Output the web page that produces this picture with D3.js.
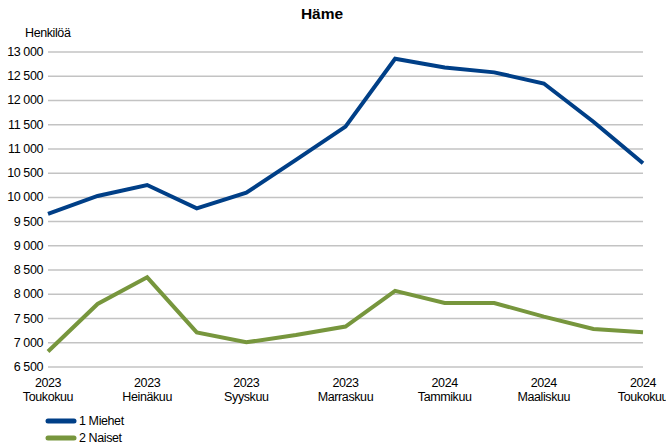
<!DOCTYPE html>
<html>
<head>
<meta charset="utf-8">
<script src="https://cdn.jsdelivr.net/npm/d3@7"></script>
<style>
  body { margin: 0; background: #fff; }
  svg text { font-family: "Liberation Sans", Arial, sans-serif; fill: #000; }
</style>
</head>
<body>
<div id="chart"></div>
<script>
// months May 2023 .. May 2024
const months = ["2023-05", "2023-06", "2023-07", "2023-08", "2023-09", "2023-10", "2023-11",
                "2023-12", "2024-01", "2024-02", "2024-03", "2024-04", "2024-05"];
const monthNames = {"05": "Toukokuu", "07": "Heinäkuu", "09": "Syyskuu", "11": "Marraskuu",
                    "01": "Tammikuu", "03": "Maaliskuu"};
const miehet = [9660, 10030, 10255, 9775, 10095, 10775, 11460, 12860, 12680, 12580, 12350, 11560, 10705];
const naiset = [6820, 7800, 8350, 7215, 7010, 7160, 7335, 8070, 7820, 7820, 7540, 7285, 7215];
const yTicks = [6500, 7000, 7500, 8000, 8500, 9000, 9500, 10000, 10500, 11000, 11500, 12000, 12500, 13000];
const seriesNames = ["1 Miehet", "2 Naiset"];
const colors = ["#003f87", "#77963d"];

const width = 666, height = 445;
const margin = {top: 52, right: 23, bottom: 78, left: 48};

const svg = d3.select("#chart").append("svg")
    .attr("width", width)
    .attr("height", height);

const x = d3.scalePoint()
    .domain(months)
    .range([margin.left, width - margin.right]);

const y = d3.scaleLinear()
    .domain([6500, 13000])
    .range([height - margin.bottom, margin.top]);

const fmt = v => d3.format(",")(v).replace(",", " ");

// gridlines
svg.append("g")
    .selectAll("line")
    .data(yTicks)
    .join("line")
    .attr("x1", margin.left)
    .attr("x2", width - margin.right)
    .attr("y1", d => y(d))
    .attr("y2", d => y(d))
    .attr("stroke", "#c3c3c3")
    .attr("stroke-width", 1.5);

// y labels
svg.append("g")
    .selectAll("text")
    .data(yTicks)
    .join("text")
    .attr("x", 43)
    .attr("y", d => y(d) + 4)
    .attr("text-anchor", "end")
    .attr("font-size", 12.5)
    .attr("letter-spacing", -0.4)
    .text(fmt);

// x labels, every second month
const xLab = svg.append("g")
    .selectAll("text")
    .data(months.filter((d, i) => i % 2 === 0))
    .join("text")
    .attr("text-anchor", "middle")
    .attr("font-size", 12.5)
    .attr("letter-spacing", -0.4);
xLab.append("tspan")
    .attr("x", d => x(d))
    .attr("y", 387)
    .text(d => d.slice(0, 4));
xLab.append("tspan")
    .attr("x", d => x(d))
    .attr("y", 401)
    .text(d => monthNames[d.slice(5)]);

// lines
const line = d3.line()
    .x((d, i) => x(months[i]))
    .y(d => y(d));

[miehet, naiset].forEach((s, i) => {
    svg.append("path")
        .datum(s)
        .attr("fill", "none")
        .attr("stroke", colors[i])
        .attr("stroke-width", 4)
        .attr("stroke-linejoin", "miter")
        .attr("d", line);
});

// title
svg.append("text")
    .attr("x", 322)
    .attr("y", 19)
    .attr("text-anchor", "middle")
    .attr("font-size", 15.5)
    .attr("font-weight", "bold")
    .text("Häme");

svg.append("text")
    .attr("x", 25)
    .attr("y", 37)
    .attr("font-size", 12.5)
    .attr("letter-spacing", -0.4)
    .text("Henkilöä");

// legend
const legend = svg.append("g")
    .selectAll("g")
    .data(seriesNames)
    .join("g")
    .attr("transform", (d, i) => `translate(48, ${421 + i * 17})`);
legend.append("line")
    .attr("x1", 0)
    .attr("x2", 26)
    .attr("stroke", (d, i) => colors[i])
    .attr("stroke-width", 5)
    .attr("stroke-linecap", "round");
legend.append("text")
    .attr("x", 31)
    .attr("y", 4)
    .attr("font-size", 12.5)
    .attr("letter-spacing", -0.4)
    .text(d => d);
</script>
</body>
</html>
